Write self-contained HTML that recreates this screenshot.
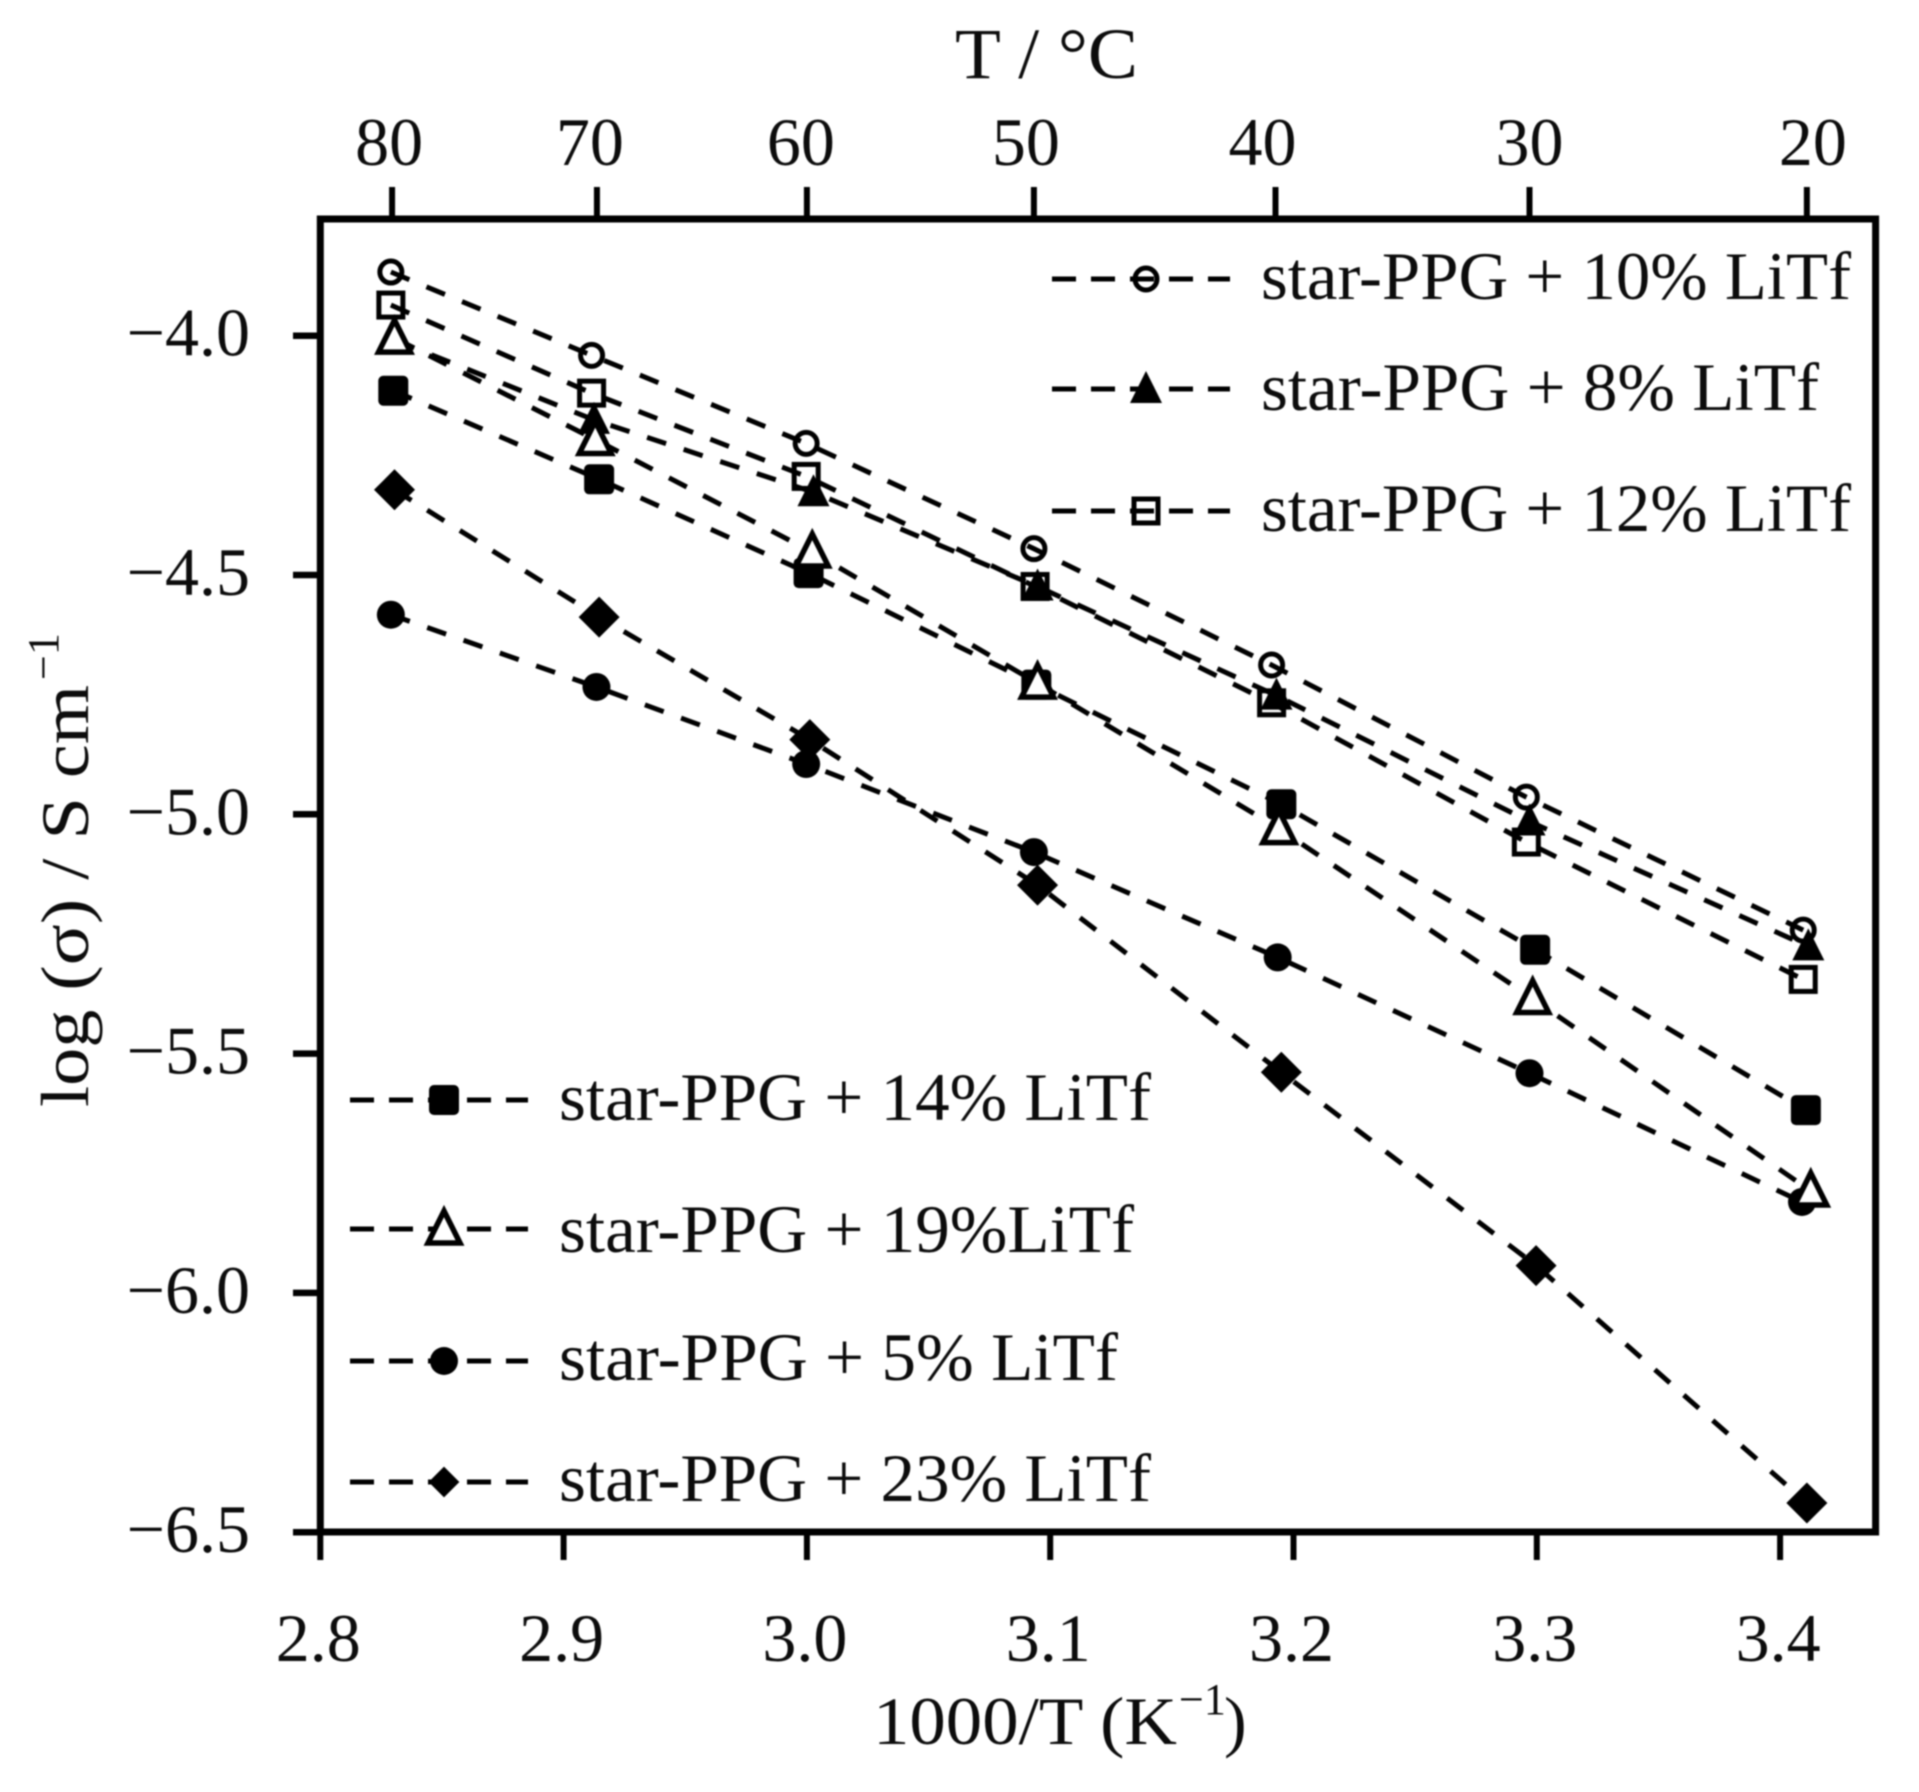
<!DOCTYPE html>
<html lang="en">
<head>
<meta charset="utf-8">
<title>Conductivity of star-PPG + LiTf</title>
<style>
html,body{margin:0;padding:0;background:#fff;}
svg{display:block;filter:blur(0.7px);}
text{font-family:"Liberation Serif",serif;fill:#0c0c0c;}
</style>
</head>
<body>
<svg id="chart" xmlns="http://www.w3.org/2000/svg" width="1919" height="1792" viewBox="0 0 1919 1792">
  <rect x="0" y="0" width="1919" height="1792" fill="#fff"/>
  <g id="series-layer"></g>
  <rect x="320.3" y="219" width="1555.3" height="1313" fill="none" stroke="#000" stroke-width="7"/>
  <g id="axis-layer"></g>
  <text x="955" y="78" font-size="72" textLength="183" lengthAdjust="spacingAndGlyphs">T / °C</text>
  <text x="873" y="1744" font-size="68" textLength="304" lengthAdjust="spacingAndGlyphs">1000/T (K</text>
  <text x="1179" y="1714" font-size="44">−1</text>
  <text x="1224" y="1744" font-size="68">)</text>
  <text transform="translate(88 1107) rotate(-90)" font-size="68" textLength="422" lengthAdjust="spacingAndGlyphs">log (σ) / S cm</text>
  <text transform="translate(58 680) rotate(-90)" font-size="44">−1</text>
  <g id="legend-layer"></g>
</svg>
<script>
// ---- data ----
const xTickValues = [2.8, 2.9, 3.0, 3.1, 3.2, 3.3, 3.4];
const xTickLabels = ['2.8', '2.9', '3.0', '3.1', '3.2', '3.3', '3.4'];
const yTickValues = [-4.0, -4.5, -5.0, -5.5, -6.0, -6.5];
const yTickLabels = ['−4.0', '−4.5', '−5.0', '−5.5', '−6.0', '−6.5'];
const topTickValues = [2.8295, 2.9137, 3.0, 3.0933, 3.1926, 3.297, 3.411];
const topTickLabels = ['80', '70', '60', '50', '40', '30', '20'];

const x8 = [2.831, 2.9125, 3.0027, 3.0948, 3.193, 3.297, 3.4116];
const y8 = [-4.01, -4.176, -4.327, -4.524, -4.752, -5.015, -5.276];
const x10 = [2.829, 2.9115, 2.9997, 3.0933, 3.191, 3.2957, 3.4095];
const y10 = [-3.867, -4.041, -4.225, -4.445, -4.688, -4.964, -5.242];
const x12 = [2.829, 2.9115, 2.9997, 3.0938, 3.191, 3.2957, 3.4095];
const y12 = [-3.936, -4.12, -4.294, -4.524, -4.767, -5.058, -5.345];
const x14 = [2.83, 2.9146, 3.0007, 3.0943, 3.195, 3.2993, 3.4106];
const y14 = [-4.115, -4.30, -4.496, -4.729, -4.979, -5.283, -5.618];
const x5 = [2.829, 2.9135, 2.9997, 3.0933, 3.1935, 3.297, 3.409];
const y5 = [-4.583, -4.734, -4.895, -5.079, -5.299, -5.541, -5.81];
const x23 = [2.8305, 2.9146, 3.0012, 3.0948, 3.195, 3.2997, 3.411];
const y23 = [-4.322, -4.588, -4.844, -5.148, -5.539, -5.943, -6.439];
const x19 = [2.8305, 2.913, 3.0022, 3.0948, 3.194, 3.2983, 3.4126];
const y19 = [-4.005, -4.217, -4.452, -4.726, -5.03, -5.385, -5.787];

const seriesNames = ['8-percent', '10-percent', '12-percent', '14-percent', '5-percent', '23-percent', '19-percent'];
const seriesX = [x8, x10, x12, x14, x5, x23, x19];
const seriesY = [y8, y10, y12, y14, y5, y23, y19];
const seriesMarkers = ['triFill', 'circleOpen', 'squareOpen', 'squareFill', 'circleFill', 'diamond', 'triOpen'];

// ---- axis functions ----
function xScale(v) { return 320.3 + (v - 2.8) * 2433; }
function yScale(v) { return 335.7 + (-4 - v) * 478.6; }

const INK = '#000';
const NS = 'http://www.w3.org/2000/svg';
function make(tag, attrs, parent) {
  const el = document.createElementNS(NS, tag);
  for (const k in attrs) el.setAttribute(k, attrs[k]);
  parent.appendChild(el);
  return el;
}

function drawMarker(kind, cx, cy, parent, scale) {
  const s = scale || 1;
  let el;
  if (kind === 'circleOpen') {
    el = make('circle', {cx: cx, cy: cy, r: 11, fill: 'none', stroke: INK, 'stroke-width': 5}, parent);
  } else if (kind === 'circleFill') {
    el = make('circle', {cx: cx, cy: cy, r: 14, fill: INK}, parent);
  } else if (kind === 'squareOpen') {
    el = make('rect', {x: cx - 12, y: cy - 12, width: 24, height: 24, fill: 'none', stroke: INK, 'stroke-width': 5}, parent);
  } else if (kind === 'squareFill') {
    el = make('rect', {x: cx - 15, y: cy - 15, width: 30, height: 30, rx: 5, fill: INK}, parent);
  } else if (kind === 'triFill') {
    el = make('polygon', {points: (cx) + ',' + (cy - 18) + ' ' + (cx + 16) + ',' + (cy + 14) + ' ' + (cx - 16) + ',' + (cy + 14), fill: INK}, parent);
  } else if (kind === 'triOpen') {
    el = make('polygon', {points: (cx) + ',' + (cy - 18) + ' ' + (cx + 16) + ',' + (cy + 14) + ' ' + (cx - 16) + ',' + (cy + 14), fill: '#fff', stroke: INK, 'stroke-width': 5.5}, parent);
  } else {
    const h = 20.5 * s;
    el = make('polygon', {points: cx + ',' + (cy - h) + ' ' + (cx + h) + ',' + cy + ' ' + cx + ',' + (cy + h) + ' ' + (cx - h) + ',' + cy, fill: INK}, parent);
  }
  return el;
}

// ---- series ----
const seriesLayer = document.getElementById('series-layer');
seriesNames.forEach(function (name, i) {
  const g = make('g', {}, seriesLayer);
  
  
  const pts = seriesX[i].map(function (xv, j) {
    return xScale(xv).toFixed(1) + ',' + yScale(seriesY[i][j]).toFixed(1);
  }).join(' ');
  const line = make('polyline', {points: pts, fill: 'none', stroke: INK, 'stroke-width': 5, 'stroke-dasharray': '20 18.5'}, g);
  
  
  seriesX[i].forEach(function (xv, j) {
    const m = drawMarker(seriesMarkers[i], xScale(xv), yScale(seriesY[i][j]), g);
    
    
  });
});

// ---- axes ----
const axisLayer = document.getElementById('axis-layer');
const topLabelShift = [-3, -7, -6, -8, -13, 0, 6];

xTickValues.forEach(function (v, i) {
  const px = xScale(v);
  const tick = make('line', {x1: px, x2: px, y1: 1532, y2: 1560, stroke: INK, 'stroke-width': 6}, axisLayer);
  
  
  const label = make('text', {x: px - 2, y: 1661, 'font-size': 68, 'text-anchor': 'middle'}, axisLayer);
  label.textContent = xTickLabels[i];
  
  
});

yTickValues.forEach(function (v, i) {
  const py = yScale(v);
  const tick = make('line', {x1: 293, x2: 320, y1: py, y2: py, stroke: INK, 'stroke-width': 6.5}, axisLayer);
  
  
  const label = make('text', {x: 250, y: py + 20, 'font-size': 68, 'text-anchor': 'end'}, axisLayer);
  label.textContent = yTickLabels[i];
  
  
});

topTickValues.forEach(function (v, i) {
  const px = xScale(v);
  const tick = make('line', {x1: px, x2: px, y1: 187, y2: 219, stroke: INK, 'stroke-width': 6}, axisLayer);
  
  
  const label = make('text', {x: px + topLabelShift[i], y: 165, 'font-size': 68, 'text-anchor': 'middle'}, axisLayer);
  label.textContent = topTickLabels[i];
  
  
});

// ---- legend ----
const legendLabels = [
  'star-PPG + 10% LiTf', 'star-PPG + 8% LiTf', 'star-PPG + 12% LiTf',
  'star-PPG + 14% LiTf', 'star-PPG + 19%LiTf', 'star-PPG + 5% LiTf', 'star-PPG + 23% LiTf'
];
const legendMarkers = ['circleOpen', 'triFill', 'squareOpen', 'squareFill', 'triOpen', 'circleFill', 'diamond'];
const legendLayout = [
  {x: 1052, y: 279, base: 299, w: 590}, {x: 1052, y: 389, base: 410, w: 558}, {x: 1052, y: 511, base: 531, w: 590},
  {x: 350, y: 1100, base: 1120, w: 592}, {x: 350, y: 1229, base: 1252, w: 575}, {x: 350, y: 1361, base: 1380, w: 559}, {x: 350, y: 1482, base: 1501, w: 592}
];
const legendLayer = document.getElementById('legend-layer');
legendLabels.forEach(function (txt, i) {
  const L = legendLayout[i];
  const g = make('g', {}, legendLayer);
  
  
  const ln = make('line', {x1: L.x, x2: L.x + 178, y1: L.y, y2: L.y, stroke: INK, 'stroke-width': 5, 'stroke-dasharray': '24 15'}, g);
  
  
  const m = drawMarker(legendMarkers[i], L.x + 94, L.y, g, 0.75);
  
  
  const t = make('text', {x: L.x + 209, y: L.base, 'font-size': 68, textLength: L.w, lengthAdjust: 'spacingAndGlyphs'}, g);
  t.textContent = txt;
  
  
});
</script>
</body>
</html>
